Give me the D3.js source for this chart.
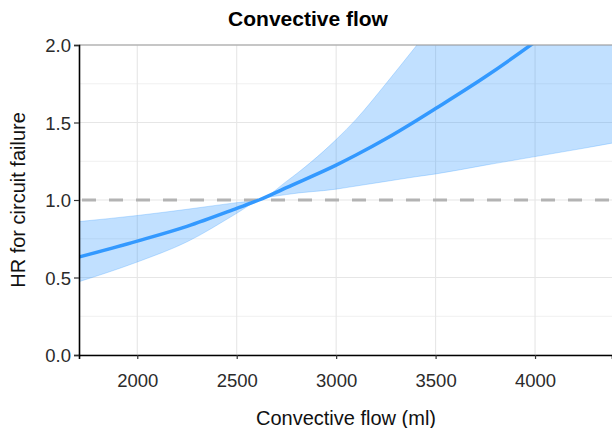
<!DOCTYPE html>
<html>
<head>
<meta charset="utf-8">
<script src="https://cdn.jsdelivr.net/npm/d3@7"></script>
<style>
  body { margin: 0; background: #fff; }
  text { font-family: "Liberation Sans", Arial, sans-serif; }
</style>
</head>
<body>
<svg id="viz" width="612" height="428"></svg>
<script>
// values
let flow  = [1700, 2000, 2250, 2500, 2612, 2750, 3000, 3100, 3250, 3400, 3500, 3750, 4000, 4250, 4400]
let hr    = [0.63, 0.735, 0.83, 0.946, 1.0, 1.08, 1.225, 1.29, 1.395, 1.51, 1.59, 1.795, 2.02, 2.26, 2.4]
let upper = [0.86, 0.90, 0.94, 0.983, 1.0, 1.12, 1.39, 1.52, 1.75, 1.99, 2.15, 2.55, 3.0, 3.5, 3.8]
let lower = [0.47, 0.60, 0.73, 0.914, 1.0, 1.035, 1.07, 1.09, 1.12, 1.15, 1.168, 1.225, 1.28, 1.335, 1.37]
let xTicks = [2000, 2500, 3000, 3500, 4000]
let yTicks = [0, 0.5, 1.0, 1.5, 2.0]
let yMinor = [0.25, 0.75, 1.25, 1.75]

let rows = flow.map((f, i) => ({ f: f, hr: hr[i], lo: lower[i], hi: upper[i] }))

const svg = d3.select('#viz')
const pLeft = 79, pRight = 612, pTop = 45, pBottom = 355

let x = d3.scaleLinear().domain([1707, 4387]).range([pLeft, pRight])
let y = d3.scaleLinear().domain([0, 2]).range([pBottom, pTop])

svg.append('clipPath').attr('id', 'plot')
  .append('rect')
  .attr('x', pLeft).attr('y', pTop)
  .attr('width', pRight - pLeft).attr('height', pBottom - pTop)

// grid
let grid = svg.append('g')
grid.selectAll('.ymin')
  .data(yMinor)
  .enter()
  .append('line')
  .attr('x1', pLeft).attr('x2', pRight)
  .attr('y1', d => y(d)).attr('y2', d => y(d))
  .style('stroke', '#f0f0f0')
  .style('stroke-width', 1)
grid.selectAll('.ymaj')
  .data(yTicks)
  .enter()
  .append('line')
  .attr('x1', pLeft).attr('x2', pRight)
  .attr('y1', d => y(d)).attr('y2', d => y(d))
  .style('stroke', '#e6e6e6')
  .style('stroke-width', 1.1)
grid.selectAll('.xmaj')
  .data(xTicks)
  .enter()
  .append('line')
  .attr('x1', d => x(d)).attr('x2', d => x(d))
  .attr('y1', pTop).attr('y2', pBottom)
  .style('stroke', '#e6e6e6')
  .style('stroke-width', 1.1)

let plot = svg.append('g').attr('clip-path', 'url(#plot)')

// confidence band
let band = d3.area()
  .x(d => x(d.f))
  .y0(d => y(d.lo))
  .y1(d => y(d.hi))
  .curve(d3.curveMonotoneX)
plot.append('path')
  .datum(rows)
  .attr('d', band)
  .style('fill', 'rgba(51,153,255,0.3)')
  .style('stroke', 'rgba(51,153,255,0.35)')
  .style('stroke-width', 0.8)

// reference line at HR = 1
plot.append('line')
  .attr('x1', pLeft).attr('x2', pRight)
  .attr('y1', y(1)).attr('y2', y(1))
  .style('stroke', '#b3b3b3')
  .style('stroke-width', 3)
  .style('stroke-dasharray', '14,13')
  .attr('stroke-dashoffset', -3)

let line = d3.line()
  .x(d => x(d.f))
  .y(d => y(d.hr))
  .curve(d3.curveMonotoneX)
plot.append('path')
  .datum(rows)
  .attr('d', line)
  .style('fill', 'none')
  .style('stroke', '#3399ff')
  .style('stroke-width', 3.5)

// frame top
svg.append('line')
  .attr('x1', pLeft).attr('x2', pRight)
  .attr('y1', pTop).attr('y2', pTop)
  .style('stroke', '#9a9a9a')
  .style('stroke-width', 1.2)

// axes
let xAxis = svg.append('g')
  .attr('transform', `translate(0,${pBottom})`)
  .call(d3.axisBottom(x).tickValues(xTicks).tickSize(4).tickPadding(15).tickFormat(d3.format('d')))
let yAxis = svg.append('g')
  .attr('transform', `translate(${pLeft},0)`)
  .call(d3.axisLeft(y).tickValues(yTicks).tickSize(5).tickPadding(3).tickFormat(d3.format('.1f')))

;[xAxis, yAxis].forEach(ax => {
  ax.select('.domain').style('stroke', '#000').style('stroke-width', 1.6)
  ax.selectAll('.tick line').style('stroke', '#333').style('stroke-width', 1.2)
  ax.selectAll('.tick text')
    .style('font-size', '18.5px')
    .style('fill', '#2b2b2b')
    .style('font-family', '"Liberation Sans", Arial, sans-serif')
})
yAxis.selectAll('.tick text').attr('dy', '0.36em')

// titles
svg.append('text')
  .attr('x', 308).attr('y', 26)
  .attr('text-anchor', 'middle')
  .style('font-size', '21px')
  .style('font-weight', 'bold')
  .style('fill', '#000')
  .text('Convective flow')

svg.append('text')
  .attr('x', 346).attr('y', 425)
  .attr('text-anchor', 'middle')
  .style('font-size', '20px')
  .style('fill', '#111')
  .text('Convective flow (ml)')

svg.append('text')
  .attr('transform', `translate(25,${(pTop + pBottom) / 2}) rotate(-90)`)
  .attr('text-anchor', 'middle')
  .style('font-size', '20px')
  .style('fill', '#111')
  .text('HR for circuit failure')
</script>
</body>
</html>
